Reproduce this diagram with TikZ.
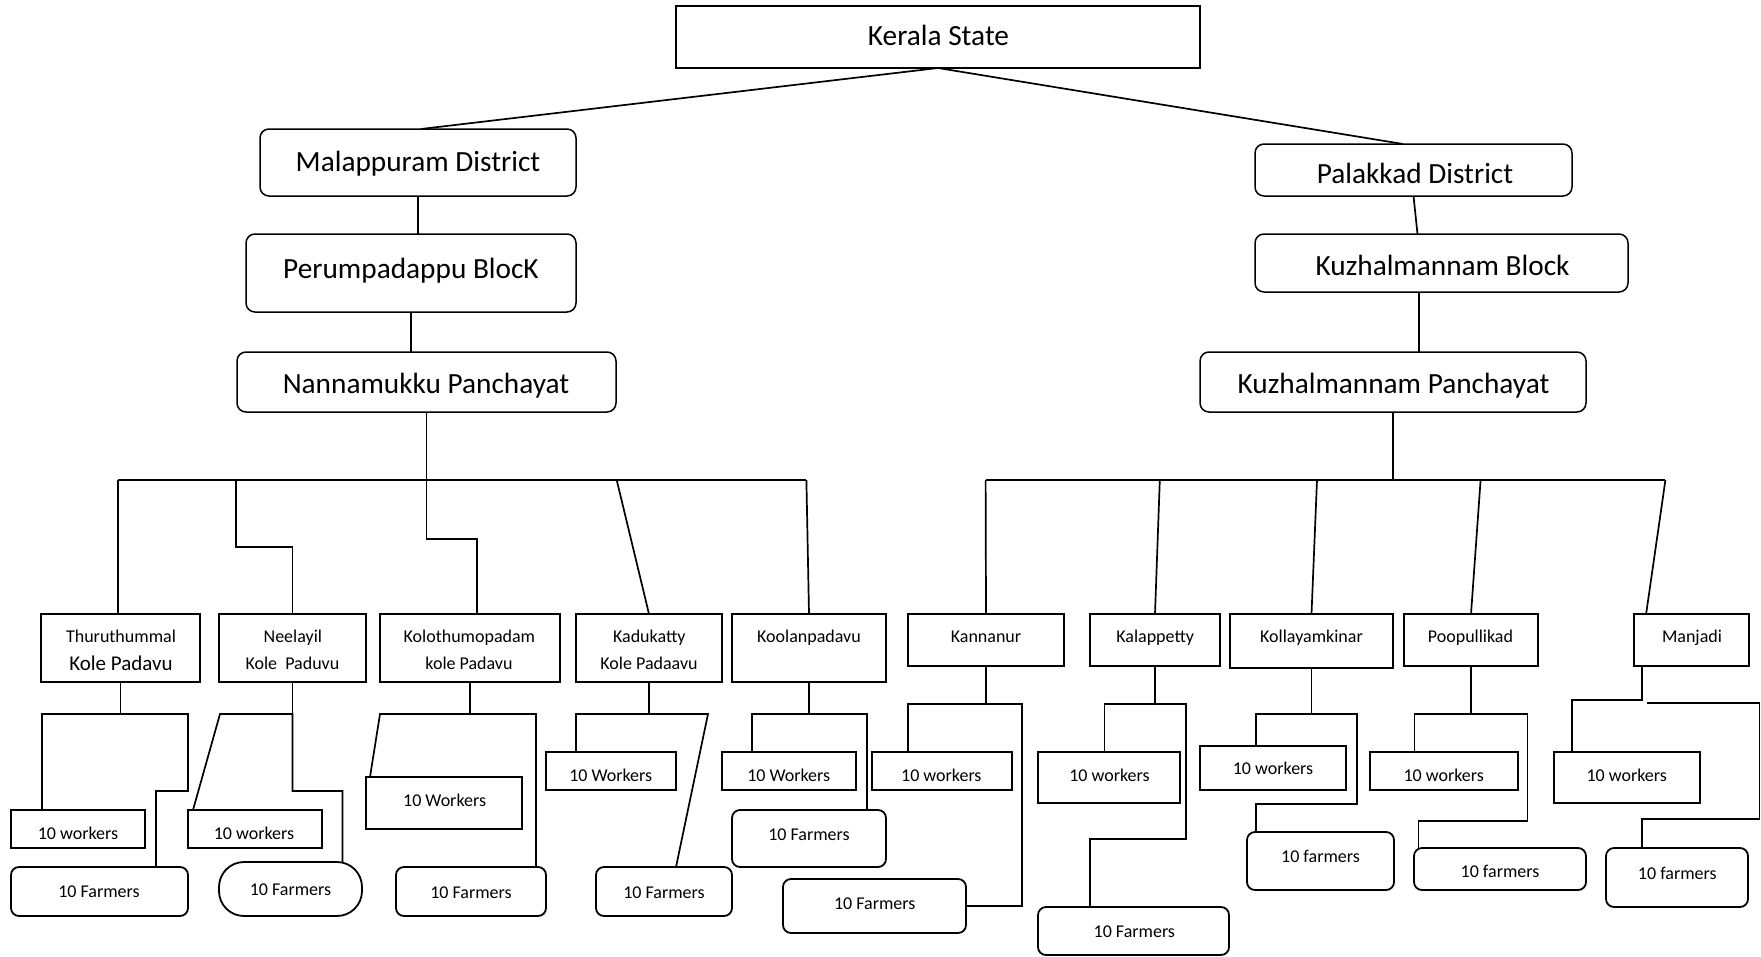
\documentclass[tikz,border=0pt]{standalone}
\usepackage{fontspec}
\setmainfont{Carlito}
\newcommand{\mkbox}[6]{%
  \pgfmathsetmacro{\mbw}{#4-#2}%
  \pgfmathsetmacro{\mbh}{#5-#3}%
  \pgfmathsetmacro{\mbx}{(#2+#4)/2}%
  \pgfmathsetmacro{\mby}{(#3+#5)/2}%
  \node[#6, minimum width=\mbw pt, minimum height=\mbh pt] (#1) at (\mbx,\mby) {};%
}
\begin{document}
\begin{tikzpicture}[x=1pt,y=-1pt,
  sbox/.style={draw, line width=2pt, inner sep=0pt, outer sep=0pt},
  rbox/.style={draw, line width=1.5pt, rounded corners=9pt, inner sep=0pt, outer sep=0pt},
  fbox/.style={draw, line width=1.8pt, rounded corners=8pt, inner sep=0pt, outer sep=0pt},
  stadbox/.style={draw, line width=1.8pt, rounded corners=25pt, inner sep=0pt, outer sep=0pt},
  ln/.style={line width=1.7pt, line join=miter},
  tbig/.style={font=\fontsize{29.3}{35}\selectfont, anchor=base, inner sep=0pt},
  tmid/.style={font=\fontsize{21}{25}\selectfont, anchor=base, inner sep=0pt},
  tsmall/.style={font=\fontsize{18}{22}\selectfont, anchor=base, inner sep=0pt}]
\fill[white] (0,0) rectangle (1761,956);
\useasboundingbox (0,0) rectangle (1761,956);

% ---------- top boxes ----------
\mkbox{ker}{676}{6}{1200}{68}{sbox}
\mkbox{mal}{260}{129}{576}{196}{rbox}
\mkbox{per}{246}{234}{576}{312}{rbox}
\mkbox{nan}{237}{352}{616}{412}{rbox}
\mkbox{pal}{1255}{144}{1572}{196}{rbox}
\mkbox{kb}{1255}{234}{1628}{292}{rbox}
\mkbox{kp}{1200}{352}{1586}{412}{rbox}

% ---------- villages ----------
\mkbox{thu}{41}{614}{200}{682}{sbox}
\mkbox{nee}{219}{614}{366}{682}{sbox}
\mkbox{kol}{380}{614}{560}{682}{sbox}
\mkbox{kad}{576}{614}{722}{682}{sbox}
\mkbox{kool}{732}{614}{886}{682}{sbox}
\mkbox{kann}{908}{614}{1064}{666}{sbox}
\mkbox{kal}{1090}{614}{1220}{666}{sbox}
\mkbox{koll}{1230}{614}{1393}{668}{sbox}
\mkbox{poo}{1404}{614}{1538}{666}{sbox}
\mkbox{man}{1634}{614}{1749}{666}{sbox}

% ---------- workers ----------
\mkbox{wa}{11}{810}{145}{848}{sbox}
\mkbox{wb}{188}{810}{321.5}{848}{sbox}
\mkbox{wc}{366}{777}{522}{829}{sbox}
\mkbox{wd}{546}{752}{676}{790}{sbox}
\mkbox{we}{722}{752}{856}{790}{sbox}
\mkbox{wf}{872}{752}{1012}{790}{sbox}
\mkbox{wg}{1038}{752}{1180}{803}{sbox}
\mkbox{wh}{1200}{746}{1346}{790}{sbox}
\mkbox{wi}{1370}{752}{1518}{790}{sbox}
\mkbox{wj}{1554}{752}{1700}{803}{sbox}

% ---------- farmers ----------
\mkbox{fa}{11}{867}{188}{916}{fbox}
\mkbox{fb}{219}{862}{362}{916}{stadbox}
\mkbox{fc}{396}{867}{546}{916}{fbox}
\mkbox{fd}{596}{867}{732}{916}{fbox}
\mkbox{fe}{732}{810}{886}{867}{fbox}
\mkbox{ff}{783}{879}{966}{933}{fbox}
\mkbox{fg}{1038}{907}{1229}{955}{fbox}
\mkbox{fh}{1247}{832}{1394}{890}{fbox}
\mkbox{fi}{1414}{848}{1586}{890}{fbox}
\mkbox{fj}{1606}{848}{1748}{907}{fbox}

% ---------- top connectors ----------
\draw[ln] (ker.south) -- ([xshift=3pt]mal.north);
\draw[ln] (ker.south) -- ([xshift=-10.5pt]pal.north);
\draw[ln] (mal.south) -- (mal.south |- per.north);
\draw[ln] (per.south) -- (per.south |- nan.north);
\draw[ln] (pal.south) -- ([xshift=-24pt]kb.north);
\draw[ln] ([xshift=-22.5pt]kb.south) -- ([xshift=-22.5pt]kb.south |- kp.north);

% ---------- left bus ----------
\coordinate (la) at (118,480);
\coordinate (lb) at (236,480);
\coordinate (ld) at (616.7,480);
\coordinate (le) at (806.4,480);
\draw[ln] (la) -- (le);
\draw[ln] (nan.south) -- (426.5,539) -- (477,539) -- ([xshift=7pt]kol.north);
\draw[ln] (la) -- (la |- thu.north);
\draw[ln] (lb) -- (236,546.7) -- (nee.north |- 0,546.7) -- (nee.north);
\draw[ln] (ld) -- (kad.north);
\draw[ln] (le) -- (kool.north);

% ---------- right bus ----------
\coordinate (ra) at (985.6,480);
\coordinate (rb) at (1159.8,480);
\coordinate (rc) at (1317,480);
\coordinate (rd) at (1480.6,480);
\coordinate (re) at (1665.4,480);
\draw[ln] (ra) -- (re);
\draw[ln] (kp.south) -- (kp.south |- ra);
\draw[ln] (ra) -- (kann.north);
\draw[ln] (rb) -- (kal.north);
\draw[ln] (rc) -- (koll.north);
\draw[ln] (rd) -- (poo.north);
\draw[ln] (re) -- ([xshift=-45.4pt]man.north);

% ---------- sub trees ----------
\draw[ln] (thu.south) -- ++(0,32);
\draw[ln] ([xshift=31pt]wa.north west) -- (42,714) -- (188,714) -- (188,791) -- (156,791) -- ([xshift=-32pt]fa.north east);

\draw[ln] (nee.south) -- ++(0,32);
\draw[ln] ([xshift=5pt]wb.north west) -- (220,714) -- (292.5,714) -- (292.5,791) -- (342.5,791) -- ([xshift=-19.5pt]fb.north east);

\draw[ln] (kol.south) -- ++(0,32);
\draw[ln] ([xshift=4pt]wc.north west) -- (380,714) -- (536,714) -- ([xshift=-10pt]fc.north east);

\draw[ln] (kad.south) -- ++(0,32);
\draw[ln] ([xshift=30pt]wd.north west) -- (576,714) -- (708,714) -- ([xshift=80pt]fd.north west);

\draw[ln] (kool.south) -- ++(0,32);
\draw[ln] ([xshift=30pt]we.north west) -- (752,714) -- (867,714) -- ([xshift=-19pt]fe.north east);

\draw[ln] (kann.south) -- ++(0,38);
\draw[ln] ([xshift=36pt]wf.north west) -- (908,704) -- (1022,704) -- (1022,906) -- (ff.east);

\draw[ln] (kal.south) -- ++(0,38);
\draw[ln] ([xshift=66.5pt]wg.north west) -- (1104.5,704) -- (1186,704) -- (1186,839) -- (1090,839) -- ([xshift=52pt]fg.north west);

\draw[ln] (koll.south) -- ++(0,46);
\draw[ln] ([xshift=56pt]wh.north west) -- (1256,714) -- (1357,714) -- (1357,804) -- (1256,804) -- ([xshift=9pt]fh.north west);

\draw[ln] (poo.south) -- ++(0,48);
\draw[ln] ([xshift=44.5pt]wi.north west) -- (1414.5,714) -- (1527.5,714) -- (1527.5,821) -- (1418.5,821) -- ([xshift=4.5pt]fi.north west);

\draw[ln] ([xshift=8pt]man.south west) -- (1642,700) -- (1572,700) -- ([xshift=18pt]wj.north west);
\coordinate (mfree) at (1647,703);
\draw[ln] (mfree) -- (1759.5,703) -- (1759.5,819) -- (1642,819) -- ([xshift=36pt]fj.north west);

% ---------- texts ----------
\node[tbig] (t-ker) at (938.5,45) {Kerala State};
\node[tbig] (t-mal) at (418,171.7) {Malappuram District};
\node[tbig] (t-per) at (411,278.3) {Perumpadappu BlocK};
\node[tbig] (t-nan) at (426,393.3) {Nannamukku Panchayat};
\node[tbig] (t-pal) at (1415,183.3) {Palakkad District};
\node[tbig] (t-kb) at (1442.6,275) {Kuzhalmannam Block};
\node[tbig] (t-kp) at (1393.5,393.3) {Kuzhalmannam Panchayat};

\node[tsmall] (t-thu1) at (121,642.7) {Thuruthummal};
\node[tmid] (t-thu2) at (121,670.7) {Kole Padavu};
\node[tsmall] (t-nee1) at (292.8,642.7) {Neelayil};
\node[tsmall] (t-nee2) at (292.4,669.3) {Kole\ \ Paduvu};
\node[tsmall] (t-kol1) at (469.4,642.7) {Kolothumopadam};
\node[tsmall] (t-kol2) at (469,669.3) {kole Padavu};
\node[tsmall] (t-kad1) at (649.3,642.7) {Kadukatty};
\node[tsmall] (t-kad2) at (649,669.3) {Kole Padaavu};
\node[tsmall] (t-kool) at (809,642.7) {Koolanpadavu};
\node[tsmall] (t-kann) at (986,642.7) {Kannanur};
\node[tsmall] (t-kal) at (1155.2,642.7) {Kalappetty};
\node[tsmall] (t-koll) at (1311.5,642.7) {Kollayamkinar};
\node[tsmall] (t-poo) at (1470.5,642.7) {Poopullikad};
\node[tsmall] (t-man) at (1692,642.7) {Manjadi};

\node[tsmall] (t-wa) at (78,839) {10 workers};
\node[tsmall] (t-wb) at (254,839) {10 workers};
\node[tsmall] (t-wc) at (444.6,806.7) {10 Workers};
\node[tsmall] (t-wd) at (610.7,781) {10 Workers};
\node[tsmall] (t-we) at (788.7,781) {10 Workers};
\node[tsmall] (t-wf) at (941.3,781) {10 workers};
\node[tsmall] (t-wg) at (1109.5,781) {10 workers};
\node[tsmall] (t-wh) at (1273,774.3) {10 workers};
\node[tsmall] (t-wi) at (1443.7,781) {10 workers};
\node[tsmall] (t-wj) at (1626.7,781) {10 workers};

\node[tsmall] (t-fa) at (99,897.7) {10 Farmers};
\node[tsmall] (t-fb) at (290.5,895.3) {10 Farmers};
\node[tsmall] (t-fc) at (471,898.3) {10 Farmers};
\node[tsmall] (t-fd) at (664,898.3) {10 Farmers};
\node[tsmall] (t-fe) at (809,840) {10 Farmers};
\node[tsmall] (t-ff) at (874.7,909.3) {10 Farmers};
\node[tsmall] (t-fg) at (1134.3,937.3) {10 Farmers};
\node[tsmall] (t-fh) at (1320.5,862.7) {10 farmers};
\node[tsmall] (t-fi) at (1500,877.7) {10 farmers};
\node[tsmall] (t-fj) at (1677.3,879.3) {10 farmers};
\end{tikzpicture}
\end{document}
